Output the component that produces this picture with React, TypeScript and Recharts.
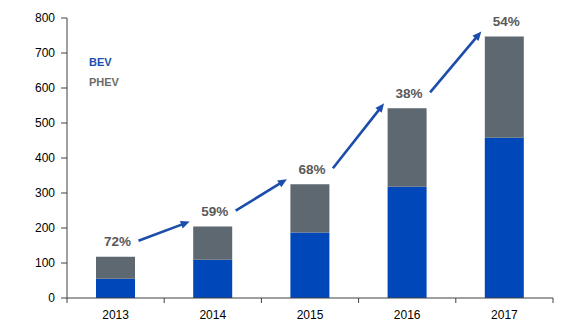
import React from 'react';
import { BarChart, Bar, XAxis, YAxis, Legend, LabelList } from 'recharts';

const years = ['2013', '2014', '2015', '2016', '2017'];
const bevValues = [55, 109, 187, 318, 458];
const phevValues = [63, 95, 138, 224, 289];
const growthLabels = ['72%', '59%', '68%', '38%', '54%'];
const yTicks = [0, 100, 200, 300, 400, 500, 600, 700, 800];
const seriesNames = ['BEV', 'PHEV'];

const data = years.map((y, i) => ({ year: y, BEV: bevValues[i], PHEV: phevValues[i] }));

const W = 567;
const H = 329;
const MARGIN = { top: 18, right: 14, left: 0, bottom: 1 };
const Y_AXIS_W = 67;
const X_AXIS_H = 30;
const PLOT_LEFT = MARGIN.left + Y_AXIS_W;
const PLOT_W = W - PLOT_LEFT - MARGIN.right;
const STEP = PLOT_W / years.length;
const AXIS_Y = H - MARGIN.bottom - X_AXIS_H;

const BLUE = '#0047BA';
const GREY = '#5E6870';
const ARROW = '#1C4DAA';
const AXIS = '#404040';
const FONT = '"Liberation Sans", Arial, sans-serif';

const Arrow = ({ x1, y1, x2, y2 }: { x1: number; y1: number; x2: number; y2: number }) => {
  const dx = x2 - x1;
  const dy = y2 - y1;
  const len = Math.sqrt(dx * dx + dy * dy);
  const ux = dx / len;
  const uy = dy / len;
  const hl = 9;
  const hw = 4;
  const bx = x2 - ux * hl;
  const by = y2 - uy * hl;
  const p1 = `${x2},${y2}`;
  const p2 = `${bx - uy * hw},${by + ux * hw}`;
  const p3 = `${bx + uy * hw},${by - ux * hw}`;
  return (
    <g>
      <line x1={x1} y1={y1} x2={bx + ux * 1} y2={by + uy * 1} stroke={ARROW} strokeWidth={2.6} />
      <polygon points={`${p1} ${p2} ${p3}`} fill={ARROW} />
    </g>
  );
};

const GrowthLabel = (props: any) => {
  const { x, y, width, height } = props;
  const cx = x + width / 2;
  let index = props.index;
  if (typeof index !== 'number') {
    index = Math.round((cx - PLOT_LEFT) / STEP - 0.5);
  }
  const k = height / phevValues[index];
  const baseline = y + height + bevValues[index] * k;
  const lx = cx + 2;
  const ly = y - 15;
  let arrow = null;
  if (index < years.length - 1) {
    const nextTotal = bevValues[index + 1] + phevValues[index + 1];
    const nlx = cx + STEP + 2;
    const nly = baseline - nextTotal * k - 15;
    arrow = <Arrow x1={lx + 21} y1={ly - 1} x2={nlx - 25} y2={nly + 10} />;
  }
  return (
    <g>
      <text
        x={lx}
        y={ly}
        textAnchor="middle"
        dominantBaseline="central"
        fontFamily={FONT}
        fontSize={13.5}
        fontWeight="bold"
        fill="#595959"
      >
        {growthLabels[index]}
      </text>
      {arrow}
    </g>
  );
};

const XTick = (props: any) => {
  const { x, index, payload } = props;
  return (
    <g>
      <line x1={x - STEP / 2} y1={AXIS_Y} x2={x - STEP / 2} y2={AXIS_Y + 5} stroke={AXIS} />
      {index === years.length - 1 && (
        <line x1={x + STEP / 2} y1={AXIS_Y} x2={x + STEP / 2} y2={AXIS_Y + 5} stroke={AXIS} />
      )}
      <text x={x} y={AXIS_Y + 21} textAnchor="middle" fontFamily={FONT} fontSize={12} fill="#000">
        {payload.value}
      </text>
    </g>
  );
};

const LegendContent = () => (
  <div style={{ fontFamily: FONT, fontSize: 11, fontWeight: 'bold', lineHeight: '20px' }}>
    <div style={{ color: '#1A4FB0' }}>{seriesNames[0]}</div>
    <div style={{ color: '#6A6A6A' }}>{seriesNames[1]}</div>
  </div>
);

export default function App() {
  return (
    <div style={{ position: 'absolute', left: 0, top: 0, width: W, height: H, background: '#fff' }}>
      <BarChart width={W} height={H} data={data} margin={MARGIN}>
        <XAxis
          dataKey="year"
          height={X_AXIS_H}
          axisLine={{ stroke: AXIS }}
          tickLine={false}
          tick={<XTick />}
          interval={0}
        />
        <YAxis
          width={Y_AXIS_W}
          domain={[0, 800]}
          ticks={yTicks}
          interval={0}
          axisLine={{ stroke: AXIS }}
          tickLine={{ stroke: AXIS }}
          tickSize={6}
          tickMargin={6}
          tick={{ fontFamily: FONT, fontSize: 12, fill: '#000' }}
        />
        <Legend
          layout="horizontal"
          align="center"
          verticalAlign="middle"
          content={<LegendContent />}
          wrapperStyle={{ position: 'absolute', left: 89, top: 52, width: 60 }}
        />
        <Bar dataKey="BEV" stackId="a" fill={BLUE} barSize={39} isAnimationActive={false} />
        <Bar dataKey="PHEV" stackId="a" fill={GREY} barSize={39} isAnimationActive={false}>
          <LabelList dataKey="PHEV" content={<GrowthLabel />} />
        </Bar>
      </BarChart>
    </div>
  );
}
